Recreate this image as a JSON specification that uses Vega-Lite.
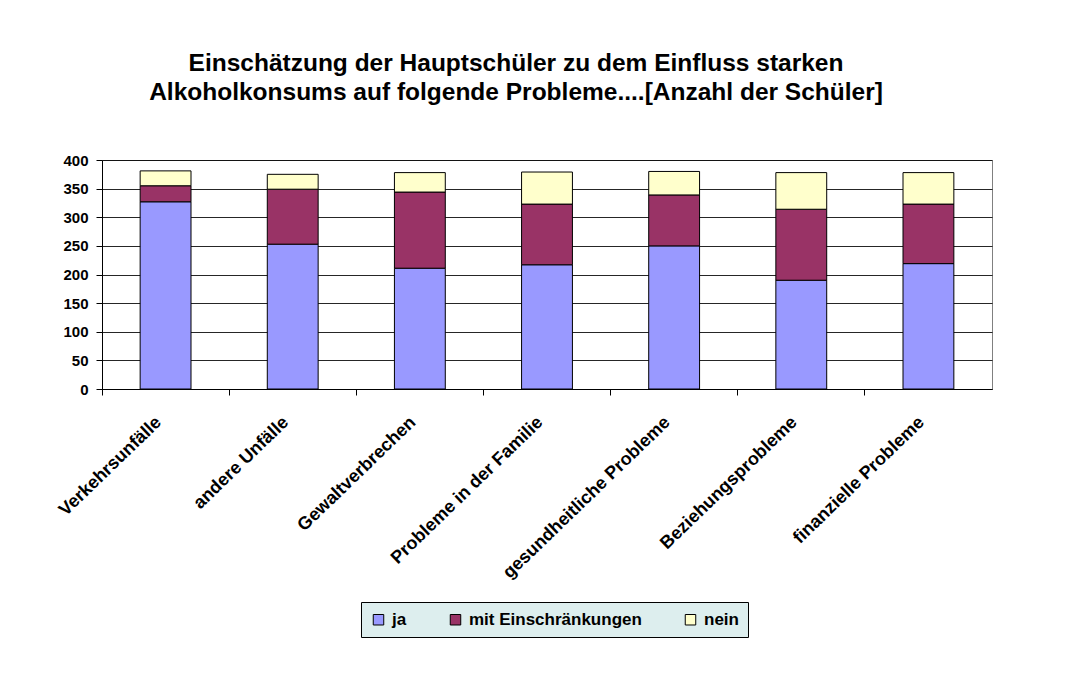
{
  "$schema": "https://vega.github.io/schema/vega-lite/v6.json",
  "width": 890,
  "height": 229,
  "autosize": "none",
  "padding": {"left": 102, "top": 160, "right": 81, "bottom": 286},
  "background": "white",
  "title": {
    "text": ["Einschätzung der Hauptschüler zu dem Einfluss starken", "Alkoholkonsums auf folgende Probleme....[Anzahl der Schüler]"],
    "font": "Liberation Sans",
    "fontSize": 24.5,
    "fontWeight": "bold",
    "color": "#000000",
    "lineHeight": 29,
    "anchor": "middle",
    "dx": -31,
    "offset": 48
  },
  "data": {
    "values": [
      {"cat": "Verkehrsunfälle", "resp": "ja", "ord": 1, "value": 327},
      {"cat": "Verkehrsunfälle", "resp": "mit Einschränkungen", "ord": 2, "value": 28},
      {"cat": "Verkehrsunfälle", "resp": "nein", "ord": 3, "value": 26},
      {"cat": "andere Unfälle", "resp": "ja", "ord": 1, "value": 253},
      {"cat": "andere Unfälle", "resp": "mit Einschränkungen", "ord": 2, "value": 96},
      {"cat": "andere Unfälle", "resp": "nein", "ord": 3, "value": 26},
      {"cat": "Gewaltverbrechen", "resp": "ja", "ord": 1, "value": 211},
      {"cat": "Gewaltverbrechen", "resp": "mit Einschränkungen", "ord": 2, "value": 133},
      {"cat": "Gewaltverbrechen", "resp": "nein", "ord": 3, "value": 34},
      {"cat": "Probleme in der Familie", "resp": "ja", "ord": 1, "value": 217},
      {"cat": "Probleme in der Familie", "resp": "mit Einschränkungen", "ord": 2, "value": 106},
      {"cat": "Probleme in der Familie", "resp": "nein", "ord": 3, "value": 56},
      {"cat": "gesundheitliche Probleme", "resp": "ja", "ord": 1, "value": 250},
      {"cat": "gesundheitliche Probleme", "resp": "mit Einschränkungen", "ord": 2, "value": 89},
      {"cat": "gesundheitliche Probleme", "resp": "nein", "ord": 3, "value": 41},
      {"cat": "Beziehungsprobleme", "resp": "ja", "ord": 1, "value": 190},
      {"cat": "Beziehungsprobleme", "resp": "mit Einschränkungen", "ord": 2, "value": 124},
      {"cat": "Beziehungsprobleme", "resp": "nein", "ord": 3, "value": 64},
      {"cat": "finanzielle Probleme", "resp": "ja", "ord": 1, "value": 219},
      {"cat": "finanzielle Probleme", "resp": "mit Einschränkungen", "ord": 2, "value": 104},
      {"cat": "finanzielle Probleme", "resp": "nein", "ord": 3, "value": 55}
    ]
  },
  "layer": [
    {
      "mark": {"type": "bar", "stroke": "#000000", "strokeWidth": 1},
      "encoding": {
        "x": {
          "field": "cat",
          "type": "nominal",
          "sort": null,
          "title": null,
          "scale": {"paddingInner": 0.6, "paddingOuter": 0.3},
          "axis": {
            "labelAngle": -44,
            "labelFont": "Liberation Sans",
            "labelFontWeight": "bold",
            "labelFontSize": 18,
            "labelColor": "#000000",
            "labelPadding": 24,
            "labelOffset": -13,
            "labelLimit": 400,
            "ticks": false,
            "domain": false,
            "grid": false,
            "orient": "bottom"
          }
        },
        "y": {
          "field": "value",
          "type": "quantitative",
          "stack": "zero",
          "title": null,
          "scale": {"domain": [0, 400], "nice": false},
          "axis": {
            "values": [0, 50, 100, 150, 200, 250, 300, 350, 400],
            "labelFont": "Liberation Sans",
            "labelFontWeight": "bold",
            "labelFontSize": 15,
            "labelColor": "#000000",
            "labelPadding": 8,
            "labelOverlap": false,
            "tickSize": 6,
            "tickColor": "#000000",
            "domainColor": "#000000",
            "grid": true,
            "gridColor": "#000000",
            "gridOpacity": 0.85
          }
        },
        "color": {
          "field": "resp",
          "type": "nominal",
          "sort": ["ja", "mit Einschränkungen", "nein"],
          "scale": {"domain": ["ja", "mit Einschränkungen", "nein"], "range": ["#9999FF", "#993366", "#FFFFCC"]},
          "legend": {
            "orient": "none",
            "legendX": 259,
            "legendY": 442,
            "direction": "horizontal",
            "title": null,
            "symbolType": "square",
            "symbolSize": 110,
            "symbolStrokeColor": "#000000",
            "symbolStrokeWidth": 1,
            "symbolOpacity": 1,
            "labelFont": "Liberation Sans",
            "labelFontWeight": "bold",
            "labelFontSize": 17,
            "labelColor": "#000000",
            "labelLimit": 400,
            "labelOffset": 5,
            "columnPadding": 40,
            "padding": 9,
            "fillColor": "#DDEEEE",
            "strokeColor": "#000000"
          }
        },
        "order": {"field": "ord", "type": "quantitative"}
      }
    },
    {
      "mark": {"type": "tick", "opacity": 0},
      "encoding": {
        "x": {
          "field": "cat",
          "type": "nominal",
          "sort": null,
          "title": null,
          "scale": {"paddingInner": 0, "paddingOuter": 0},
          "axis": {
            "orient": "bottom",
            "bandPosition": 0,
            "labels": false,
            "ticks": true,
            "tickSize": 6,
            "tickColor": "#000000",
            "domain": true,
            "domainColor": "#000000",
            "grid": false
          }
        },
        "y": {
          "field": "value",
          "type": "quantitative",
          "stack": "zero",
          "title": null,
          "axis": {
            "values": [0, 50, 100, 150, 200, 250, 300, 350, 400],
            "labelFont": "Liberation Sans",
            "labelFontWeight": "bold",
            "labelFontSize": 15,
            "labelColor": "#000000",
            "labelPadding": 8,
            "labelOverlap": false,
            "tickSize": 6,
            "tickColor": "#000000",
            "domainColor": "#000000",
            "grid": true,
            "gridColor": "#000000",
            "gridOpacity": 0.85
          }
        }
      }
    }
  ],
  "resolve": {"scale": {"x": "independent"}, "axis": {"x": "independent"}},
  "config": {
    "view": {"stroke": "#808080", "strokeWidth": 1},
    "font": "Liberation Sans"
  }
}
